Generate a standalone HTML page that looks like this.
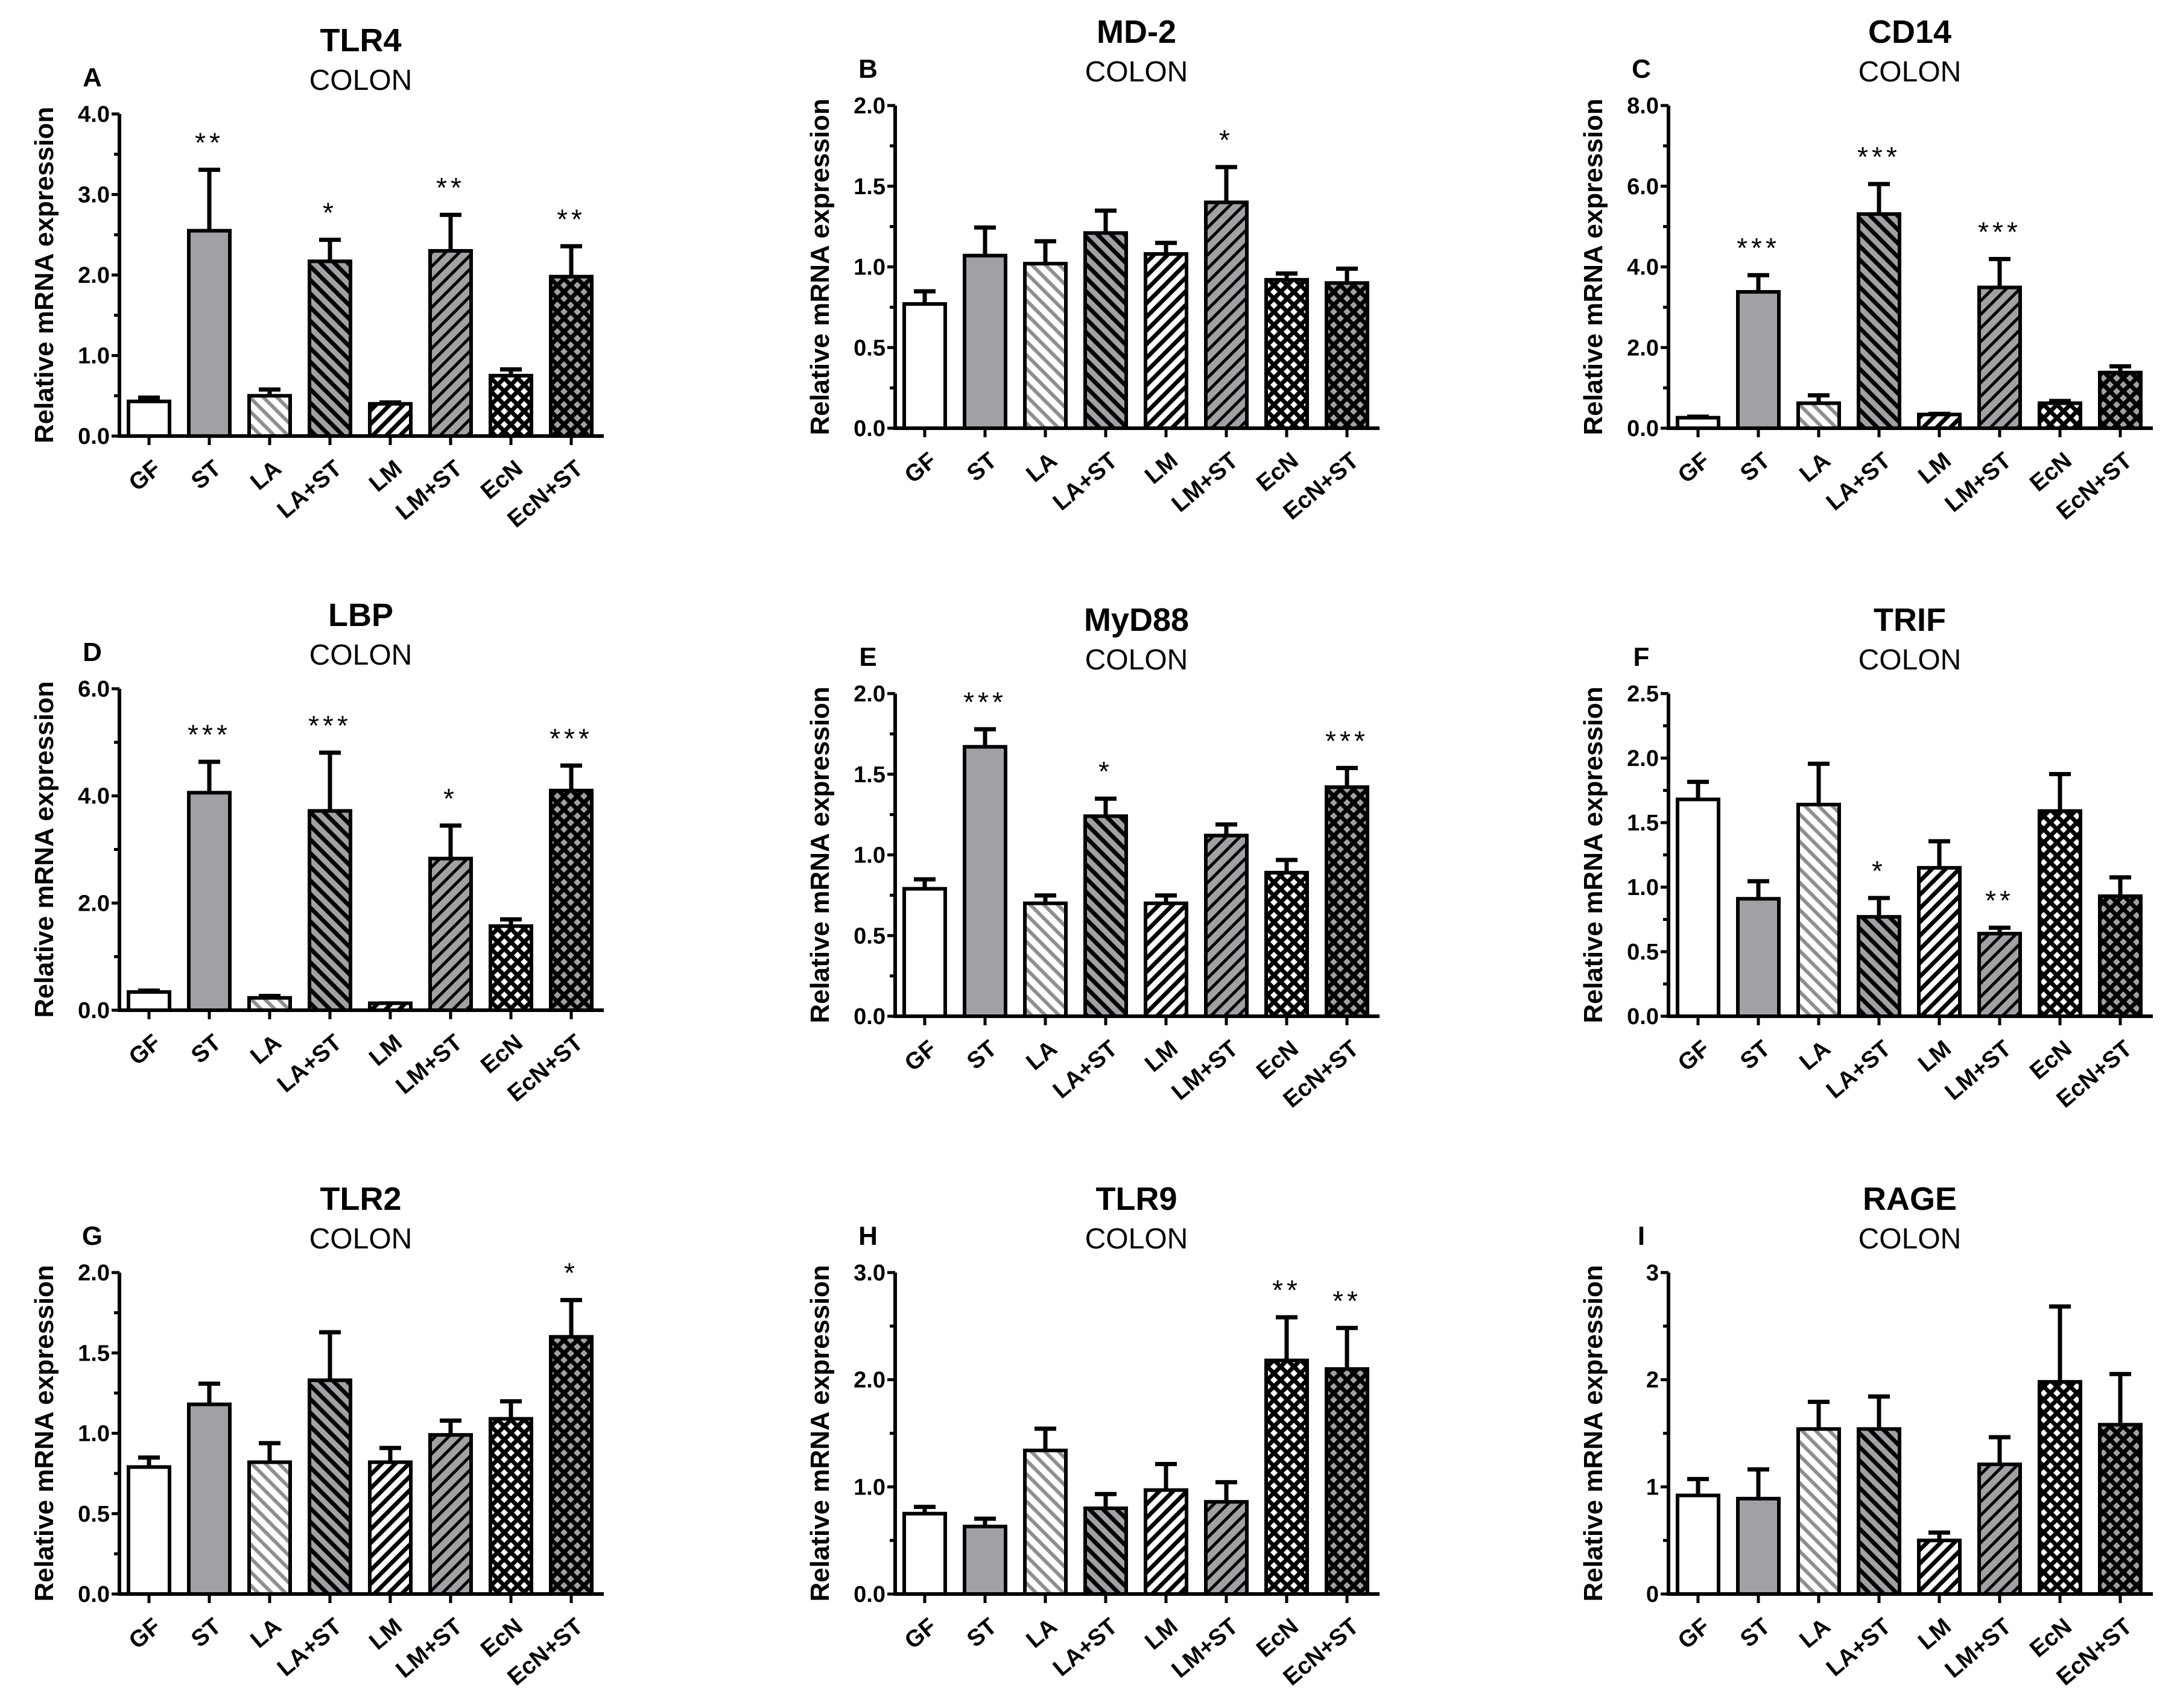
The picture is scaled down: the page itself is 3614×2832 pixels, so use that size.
<!DOCTYPE html>
<html><head><meta charset="utf-8"><style>
html,body{margin:0;padding:0;background:#fff;}
svg{display:block;font-family:"Liberation Sans",Arial,sans-serif;}
</style></head><body>
<svg id="fig" width="3614" height="2832" viewBox="0 0 3614 2832" xmlns="http://www.w3.org/2000/svg">
<defs>
<pattern id="pLA" patternUnits="userSpaceOnUse" width="16" height="16" patternTransform="rotate(-45)"><rect width="16" height="16" fill="#fff"/><rect x="0" y="0" width="6" height="16" fill="#8f8f93"/></pattern>
<pattern id="pLAST" patternUnits="userSpaceOnUse" width="16" height="16" patternTransform="rotate(-45)"><rect width="16" height="16" fill="#a1a1a5"/><rect x="0" y="0" width="7" height="16" fill="#000"/></pattern>
<pattern id="pLM" patternUnits="userSpaceOnUse" width="16" height="16" patternTransform="rotate(45)"><rect width="16" height="16" fill="#fff"/><rect x="0" y="0" width="7" height="16" fill="#000"/></pattern>
<pattern id="pLMST" patternUnits="userSpaceOnUse" width="16" height="16" patternTransform="rotate(45)"><rect width="16" height="16" fill="#a1a1a5"/><rect x="0" y="0" width="5" height="16" fill="#000"/></pattern>
<pattern id="pEcN" patternUnits="userSpaceOnUse" width="22" height="22"><rect width="22" height="22" fill="#000"/><polygon points="11,5 17,11 11,17 5,11" fill="#fff"/><polygon points="0,-6 6,0 0,6 -6,0" fill="#fff"/><polygon points="22,-6 28,0 22,6 16,0" fill="#fff"/><polygon points="0,16 6,22 0,28 -6,22" fill="#fff"/><polygon points="22,16 28,22 22,28 16,22" fill="#fff"/></pattern>
<pattern id="pEcNST" patternUnits="userSpaceOnUse" width="22" height="22"><rect width="22" height="22" fill="#000"/><polygon points="11,5 17,11 11,17 5,11" fill="#a1a1a5"/><polygon points="0,-6 6,0 0,6 -6,0" fill="#a1a1a5"/><polygon points="22,-6 28,0 22,6 16,0" fill="#a1a1a5"/><polygon points="0,16 6,22 0,28 -6,22" fill="#a1a1a5"/><polygon points="22,16 28,22 22,28 16,22" fill="#a1a1a5"/></pattern>
</defs>
</svg>
<script>
const categories = ["GF","ST","LA","LA+ST","LM","LM+ST","EcN","EcN+ST"];
const fills = ["#fff","#a1a1a5","url(#pLA)","url(#pLAST)","url(#pLM)","url(#pLMST)","url(#pEcN)","url(#pEcNST)"];

const tlr4Values = [0.43,2.55,0.50,2.17,0.40,2.30,0.75,1.98];
const tlr4Errors = [0.50,3.33,0.60,2.46,0.44,2.77,0.85,2.38];
const tlr4Stars = ["","**","","*","","**","","**"];
const tlr4Ticks = [0,1,2,3,4];

const md2Values = [0.77,1.07,1.02,1.21,1.08,1.40,0.92,0.90];
const md2Errors = [0.86,1.255,1.17,1.36,1.16,1.63,0.97,1.00];
const md2Stars = ["","","","","","*","",""];
const md2Ticks = [0,0.5,1,1.5,2];

const cd14Values = [0.26,3.38,0.62,5.31,0.34,3.49,0.62,1.38];
const cd14Errors = [0.33,3.84,0.86,6.10,0.40,4.24,0.72,1.58];
const cd14Stars = ["","***","","***","","***","",""];
const cd14Ticks = [0,2,4,6,8];

const lbpValues = [0.34,4.06,0.23,3.72,0.13,2.83,1.57,4.10];
const lbpErrors = [0.40,4.67,0.30,4.84,0.16,3.48,1.73,4.60];
const lbpStars = ["","***","","***","","*","","***"];
const lbpTicks = [0,2,4,6];

const myd88Values = [0.79,1.67,0.70,1.24,0.70,1.12,0.89,1.42];
const myd88Errors = [0.86,1.79,0.76,1.36,0.76,1.20,0.98,1.55];
const myd88Stars = ["","***","","*","","","","***"];
const myd88Ticks = [0,0.5,1,1.5,2];

const trifValues = [1.68,0.91,1.64,0.77,1.15,0.64,1.59,0.93];
const trifErrors = [1.83,1.06,1.97,0.93,1.37,0.70,1.89,1.09];
const trifStars = ["","","","*","","**","",""];
const trifTicks = [0,0.5,1,1.5,2,2.5];

const tlr2Values = [0.79,1.18,0.82,1.33,0.82,0.99,1.09,1.60];
const tlr2Errors = [0.86,1.32,0.95,1.64,0.92,1.09,1.21,1.84];
const tlr2Stars = ["","","","","","","","*"];
const tlr2Ticks = [0,0.5,1,1.5,2];

const tlr9Values = [0.75,0.63,1.34,0.80,0.97,0.86,2.18,2.10];
const tlr9Errors = [0.83,0.72,1.56,0.95,1.23,1.06,2.60,2.50];
const tlr9Stars = ["","","","","","","**","**"];
const tlr9Ticks = [0,1,2,3];

const rageValues = [0.92,0.89,1.54,1.54,0.50,1.21,1.98,1.58];
const rageErrors = [1.09,1.18,1.81,1.86,0.59,1.48,2.70,2.07];
const rageStars = ["","","","","","","",""];
const rageTicks = [0,1,2,3];

const panels = [
 {id:"tlr4",title:"TLR4",letter:"A",x0:198,top:189,zero:723,vals:tlr4Values,errs:tlr4Errors,stars:tlr4Stars,ticks:tlr4Ticks,minor:0.5,dec:1},
 {id:"md2",title:"MD-2",letter:"B",x0:1484,top:175,zero:710,vals:md2Values,errs:md2Errors,stars:md2Stars,ticks:md2Ticks,minor:0.25,dec:1},
 {id:"cd14",title:"CD14",letter:"C",x0:2766,top:175,zero:710,vals:cd14Values,errs:cd14Errors,stars:cd14Stars,ticks:cd14Ticks,minor:1,dec:1},
 {id:"lbp",title:"LBP",letter:"D",x0:198,top:1142,zero:1675,vals:lbpValues,errs:lbpErrors,stars:lbpStars,ticks:lbpTicks,minor:1,dec:1},
 {id:"myd88",title:"MyD88",letter:"E",x0:1484,top:1150,zero:1685,vals:myd88Values,errs:myd88Errors,stars:myd88Stars,ticks:myd88Ticks,minor:0.25,dec:1},
 {id:"trif",title:"TRIF",letter:"F",x0:2766,top:1150,zero:1685,vals:trifValues,errs:trifErrors,stars:trifStars,ticks:trifTicks,minor:0.25,dec:1},
 {id:"tlr2",title:"TLR2",letter:"G",x0:198,top:2110,zero:2643,vals:tlr2Values,errs:tlr2Errors,stars:tlr2Stars,ticks:tlr2Ticks,minor:0.25,dec:1},
 {id:"tlr9",title:"TLR9",letter:"H",x0:1484,top:2110,zero:2643,vals:tlr9Values,errs:tlr9Errors,stars:tlr9Stars,ticks:tlr9Ticks,minor:0.5,dec:1},
 {id:"rage",title:"RAGE",letter:"I",x0:2766,top:2110,zero:2643,vals:rageValues,errs:rageErrors,stars:rageStars,ticks:rageTicks,minor:0.5,dec:0}
];

const NS = "http://www.w3.org/2000/svg";
const svg = document.getElementById("fig");
function mk(tag, attrs, parent){
  const e = document.createElementNS(NS, tag);
  for (const k in attrs) e.setAttribute(k, attrs[k]);
  parent.appendChild(e);
  return e;
}

panels.forEach(p => {
  const g = mk("g", {}, svg);
  
  
  const ymax = p.ticks[p.ticks.length-1];
  const yS = v => p.zero - (v / ymax) * (p.zero - p.top);
  const xS = i => p.x0 + 49 + i * 100;
  const xEnd = p.x0 + 49 + 7*100 + 54;
  const cx = p.x0 + 400;

  const t = mk("text", {x:cx, y:p.top-104, "text-anchor":"middle", "font-size":54, "font-weight":"bold"}, g);
  t.textContent = p.title;
  
  
  const c = mk("text", {x:cx, y:p.top-40, "text-anchor":"middle", "font-size":48}, g);
  c.textContent = "COLON";
  
  
  const L = mk("text", {x:p.x0-45, y:p.top-46, "text-anchor":"middle", "font-size":44, "font-weight":"bold"}, g);
  L.textContent = p.letter;
  
  

  const ym = (p.top + p.zero)/2;
  const yt = mk("text", {x:0, y:0, "text-anchor":"middle", "font-size":44, "font-weight":"bold", transform:`translate(${p.x0-110},${ym}) rotate(-90)`}, g);
  yt.textContent = "Relative mRNA expression";
  
  

  for (let v = 0; v <= ymax + 1e-9; v += p.minor) {
    const major = p.ticks.some(tv => Math.abs(tv - v) < 1e-6);
    const tk = mk("line", {x1:p.x0-(major?13:9), x2:p.x0, y1:yS(v), y2:yS(v), stroke:"#000", "stroke-width":5}, g);
    
    
  }
  p.ticks.forEach(v => {
    const tl = mk("text", {x:p.x0-16, y:yS(v)+13, "text-anchor":"end", "font-size":38, "font-weight":"bold"}, g);
    tl.textContent = v.toFixed(p.dec);
    
    
  });

  p.vals.forEach((v, i) => {
    const x = xS(i), yv = yS(v), ye = yS(p.errs[i]);
    const eb = mk("line", {x1:x, x2:x, y1:yv, y2:ye, stroke:"#000", "stroke-width":7}, g);
    
    
    const ec = mk("line", {x1:x-18, x2:x+18, y1:ye+3, y2:ye+3, stroke:"#000", "stroke-width":7}, g);
    
    
    const r = mk("rect", {x:x-34, y:yv, width:68, height:p.zero-yv, fill:fills[i], stroke:"#000", "stroke-width":6}, g);
    
    
    if (p.stars[i]) {
      const s = mk("text", {x:x, y:ye-26, "text-anchor":"middle", "font-size":46, "letter-spacing":6}, g);
      s.textContent = p.stars[i];
      
      
    }
    const xt = mk("line", {x1:x, x2:x, y1:p.zero, y2:p.zero+15, stroke:"#000", "stroke-width":5}, g);
    
    
    const xl = mk("text", {x:0, y:0, "text-anchor":"end", "font-size":39, "font-weight":"bold", transform:`translate(${x+22},${p.zero+58}) rotate(-40)`}, g);
    xl.textContent = categories[i];
    
    
  });

  const ya = mk("line", {x1:p.x0, x2:p.x0, y1:p.top, y2:p.zero+3, stroke:"#000", "stroke-width":6}, g);
  
  
  const xa = mk("line", {x1:p.x0-3, x2:xEnd, y1:p.zero, y2:p.zero, stroke:"#000", "stroke-width":6}, g);
  
  
});
</script>
</body></html>
